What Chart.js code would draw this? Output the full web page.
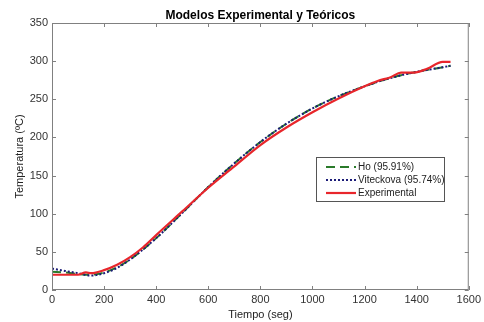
<!DOCTYPE html>
<html>
<head>
<meta charset="utf-8">
<script src="https://cdn.jsdelivr.net/npm/chart.js@4/dist/chart.umd.min.js"></script>
<style>
html, body { margin: 0; padding: 0; background: #fff; }
#wrap { width: 484px; height: 322px; position: relative; }
</style>
</head>
<body>
<div id="wrap"><canvas id="grafica"></canvas></div>
<script>
// datos
var tiempoExp = [0, 50, 100, 130, 150, 200, 250, 300, 350, 400, 500, 600, 700, 800, 900, 1000, 1100, 1200, 1250, 1300, 1340, 1390, 1440, 1500, 1530];
var tempExp   = [20, 20, 20, 23, 22, 26, 33, 43, 56, 72, 103, 134, 162, 190, 213, 233, 251, 267, 274, 279, 285, 285, 290, 299, 299];

var tiempoMod = [0, 50, 100, 150, 200, 250, 300, 400, 500, 600, 700, 800, 900, 1000, 1100, 1200, 1300, 1400, 1500, 1530];
var tempHo    = [24, 23, 21, 20, 23, 30, 40, 68, 101, 135, 166, 194, 218, 238, 254, 267, 278, 286, 292, 294];
var tempVit   = [28, 25, 22, 19, 22, 29, 40, 68, 101, 135, 166, 194, 218, 238, 254, 267, 278, 286, 292, 294];

var xTicks = [0, 200, 400, 600, 800, 1000, 1200, 1400, 1600];
var yTicks = [0, 50, 100, 150, 200, 250, 300, 350];

var titulo = "Modelos Experimental y Teóricos";
var nombres = ["Ho (95.91%)", "Viteckova (95.74%)", "Experimental"];

function puntos(xs, ys) {
    return xs.map(function (x, i) { return {x: x, y: ys[i]}; });
}

var FUENTE = "'Liberation Sans', Arial, sans-serif";

// caja, marcas hacia adentro, titulo y leyenda al estilo matlab
var estiloMatlab = {
    id: "estiloMatlab",
    afterDraw: function (chart) {
        var ctx = chart.ctx, a = chart.chartArea;
        var sx = chart.scales.x, sy = chart.scales.y;
        ctx.save();
        ctx.strokeStyle = "#808080";
        ctx.lineWidth = 1;
        ctx.strokeRect(a.left + 0.5, a.top + 0.5, a.right - a.left - 1, a.bottom - a.top - 1);
        ctx.beginPath();
        xTicks.forEach(function (v) {
            var p = Math.round(sx.getPixelForValue(v)) + 0.5;
            ctx.moveTo(p, a.bottom); ctx.lineTo(p, a.bottom - 4);
            ctx.moveTo(p, a.top); ctx.lineTo(p, a.top + 4);
        });
        yTicks.forEach(function (v) {
            var p = Math.round(sy.getPixelForValue(v)) + 0.5;
            ctx.moveTo(a.left, p); ctx.lineTo(a.left + 4, p);
            ctx.moveTo(a.right, p); ctx.lineTo(a.right - 4, p);
        });
        ctx.stroke();

        // titulo
        ctx.fillStyle = "#000";
        ctx.font = "bold 12px " + FUENTE;
        ctx.textAlign = "center";
        ctx.textBaseline = "alphabetic";
        ctx.fillText(titulo, (a.left + a.right) / 2, a.top - 4);

        // leyenda
        var lx = 316, ly = 157, lw = 128, lh = 44;
        ctx.fillStyle = "#fff";
        ctx.fillRect(lx, ly, lw, lh);
        ctx.strokeStyle = "#555";
        ctx.strokeRect(lx + 0.5, ly + 0.5, lw, lh);
        var ds = [chart.data.datasets[1], chart.data.datasets[2], chart.data.datasets[0]];
        ctx.font = "10px " + FUENTE;
        ctx.textAlign = "left";
        ctx.textBaseline = "middle";
        ds.forEach(function (d, i) {
            var y = ly + 10 + i * 13;
            ctx.strokeStyle = d.borderColor;
            ctx.lineWidth = d.borderWidth;
            ctx.setLineDash(d.borderDash || []);
            ctx.beginPath();
            ctx.moveTo(lx + 10, y); ctx.lineTo(lx + 40, y);
            ctx.stroke();
            ctx.setLineDash([]);
            ctx.fillStyle = "#222";
            ctx.fillText(nombres[i], lx + 42, y + 0.5);
        });
        ctx.restore();
    }
};

var ctx = document.getElementById("grafica").getContext("2d");
var grafica = new Chart(ctx, {
    type: "line",
    data: {
        datasets: [{
            label: nombres[2],
            data: puntos(tiempoExp, tempExp),
            borderColor: "#e8262b",
            borderWidth: 2.2,
            pointRadius: 0,
            cubicInterpolationMode: "monotone",
            order: 0
        }, {
            label: nombres[0],
            data: puntos(tiempoMod, tempHo),
            borderColor: "#2a7a2a",
            borderWidth: 2,
            borderDash: [9, 5],
            pointRadius: 0,
            cubicInterpolationMode: "monotone",
            order: 2
        }, {
            label: nombres[1],
            data: puntos(tiempoMod, tempVit),
            borderColor: "#1c1c78",
            borderWidth: 2,
            borderDash: [2, 2],
            pointRadius: 0,
            cubicInterpolationMode: "monotone",
            order: 1
        }]
    },
    options: {
        responsive: true,
        maintainAspectRatio: false,
        animation: false,
        layout: { padding: { top: 23, right: 13, left: 0, bottom: 0 } },
        plugins: {
            legend: { display: false },
            tooltip: { enabled: false }
        },
        scales: {
            x: {
                type: "linear",
                min: 0, max: 1600,
                afterBuildTicks: function (s) { s.ticks = xTicks.map(function (v) { return {value: v}; }); },
                afterFit: function (s) { s.height = 32; },
                grid: { display: false, drawTicks: false },
                border: { display: false },
                ticks: { color: "#333", font: { size: 11, family: FUENTE }, padding: 3, maxRotation: 0,
                         callback: function (v) { return String(v); } },
                title: { display: true, text: "Tiempo (seg)", color: "#222", font: { size: 11, family: FUENTE }, padding: { top: 2, bottom: 0 } }
            },
            y: {
                min: 0, max: 350,
                afterBuildTicks: function (s) { s.ticks = yTicks.map(function (v) { return {value: v}; }); },
                afterFit: function (s) { s.width = 52; },
                grid: { display: false, drawTicks: false },
                border: { display: false },
                ticks: { color: "#333", font: { size: 11, family: FUENTE }, padding: 4,
                         callback: function (v) { return String(v); } },
                title: { display: true, text: "Temperatura (ºC)", color: "#222", font: { size: 11, family: FUENTE }, padding: { top: 13, bottom: 0 } }
            }
        }
    },
    plugins: [estiloMatlab]
});
</script>
</body>
</html>
